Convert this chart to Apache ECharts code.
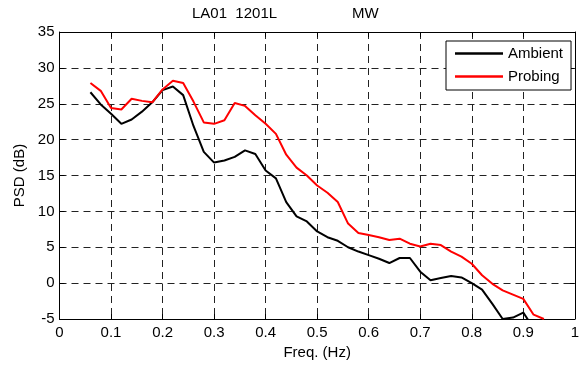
<!DOCTYPE html>
<html>
<head>
<meta charset="utf-8">
<script src="https://cdn.jsdelivr.net/npm/echarts@6/dist/echarts.min.js"></script>
<style>
  html, body { margin: 0; padding: 0; background: #fff; }
  #chart { width: 582px; height: 367px; }
</style>
</head>
<body>
<div id="chart"></div>
<script>
// Frequency samples (Hz) and PSD levels (dB)
const freqAmbient = [0.06, 0.08, 0.10, 0.12, 0.14, 0.16, 0.18, 0.20, 0.22, 0.24,
  0.26, 0.28, 0.30, 0.32, 0.34, 0.36, 0.38, 0.40, 0.42, 0.44,
  0.46, 0.48, 0.50, 0.52, 0.54, 0.56, 0.58, 0.60, 0.62, 0.64,
  0.66, 0.68, 0.70, 0.72, 0.74, 0.76, 0.78, 0.80, 0.82, 0.84,
  0.86, 0.88, 0.90, 0.92];
const psdAmbient = [26.6, 24.9, 23.6, 22.2, 22.8, 23.9, 25.2, 26.9, 27.4, 26.2,
  21.9, 18.3, 16.8, 17.1, 17.6, 18.5, 18.0, 15.7, 14.6, 11.3,
  9.3, 8.6, 7.2, 6.4, 5.9, 5.0, 4.4, 3.9, 3.4, 2.8,
  3.5, 3.5, 1.6, 0.4, 0.7, 1.0, 0.8, 0.0, -0.9, -2.9,
  -5.0, -4.8, -4.1, -6.3];

const freqProbing = [0.06, 0.08, 0.10, 0.12, 0.14, 0.16, 0.18, 0.20, 0.22, 0.24,
  0.26, 0.28, 0.30, 0.32, 0.34, 0.36, 0.38, 0.40, 0.42, 0.44,
  0.46, 0.48, 0.50, 0.52, 0.54, 0.56, 0.58, 0.60, 0.62, 0.64,
  0.66, 0.68, 0.70, 0.72, 0.74, 0.76, 0.78, 0.80, 0.82, 0.84,
  0.86, 0.88, 0.90, 0.92, 0.94];
const psdProbing = [27.9, 26.8, 24.4, 24.2, 25.7, 25.4, 25.2, 27.0, 28.2, 27.9,
  25.3, 22.4, 22.2, 22.7, 25.1, 24.7, 23.4, 22.2, 20.8, 17.9,
  16.1, 15.0, 13.6, 12.6, 11.3, 8.3, 7.0, 6.7, 6.4, 6.0,
  6.2, 5.5, 5.1, 5.5, 5.3, 4.4, 3.7, 2.7, 1.1, -0.1,
  -1.0, -1.6, -2.2, -4.4, -5.0];

const seriesNames = ['Ambient', 'Probing'];
const titleLeft = 'LA01  1201L';
const titleRight = 'MW';
const xName = 'Freq. (Hz)';
const yName = 'PSD (dB)';

const FONT = '"Liberation Sans", Arial, Helvetica, sans-serif';
const FS = 15;

function pairs(xs, ys) { return xs.map((x, i) => [x, ys[i]]); }

const gridLine = { show: true, lineStyle: { color: '#222', type: [7, 5], width: 1 } };
const frameLine = { show: true, onZero: false, lineStyle: { color: '#000', width: 1 } };
const tickIn = { show: true, inside: true, length: 5, lineStyle: { color: '#000' } };

const chart = echarts.init(document.getElementById('chart'), null, { renderer: 'canvas' });
chart.setOption({
  animation: false,
  backgroundColor: '#fff',
  textStyle: { fontFamily: FONT },
  title: [
    { text: titleLeft, left: 192, top: 6, padding: 0,
      textStyle: { fontFamily: FONT, fontSize: FS, fontWeight: 'normal', color: '#000' } },
    { text: titleRight, left: 352, top: 6, padding: 0,
      textStyle: { fontFamily: FONT, fontSize: FS, fontWeight: 'normal', color: '#000' } }
  ],
  grid: { left: 59.5, right: 2.5, top: 32, bottom: 48, containLabel: false },
  legend: {
    data: seriesNames.map(n => ({ name: n, icon: 'rect' })),
    orient: 'vertical',
    left: 446, top: 41,
    padding: [5, 8, 6, 9],
    itemWidth: 48, itemHeight: 2.5, itemGap: 8, itemTextGap: 6,
    backgroundColor: '#fff',
    borderColor: '#000', borderWidth: 1,
    textStyle: { fontFamily: FONT, fontSize: FS, color: '#000' }
  },
  xAxis: [
    {
      type: 'value', min: 0, max: 1, interval: 0.1,
      name: xName, nameLocation: 'middle', nameGap: 24,
      nameTextStyle: { fontFamily: FONT, fontSize: FS, color: '#000' },
      axisLine: frameLine, axisTick: tickIn,
      axisLabel: { margin: 6, fontFamily: FONT, fontSize: FS, color: '#000' },
      splitLine: gridLine
    },
    {
      type: 'value', min: 0, max: 1, interval: 0.1, position: 'top',
      axisLine: frameLine, axisTick: tickIn,
      axisLabel: { show: false }, splitLine: { show: false }
    }
  ],
  yAxis: [
    {
      type: 'value', min: -5, max: 35, interval: 5,
      name: yName, nameLocation: 'middle', nameGap: 32,
      nameTextStyle: { fontFamily: FONT, fontSize: FS, color: '#000' },
      axisLine: frameLine, axisTick: tickIn,
      axisLabel: { margin: 5, fontFamily: FONT, fontSize: FS, color: '#000' },
      splitLine: gridLine
    },
    {
      type: 'value', min: -5, max: 35, interval: 5, position: 'right',
      axisLine: frameLine, axisTick: tickIn,
      axisLabel: { show: false }, splitLine: { show: false }
    }
  ],
  series: [
    {
      name: seriesNames[0], type: 'line', symbol: 'none', clip: true,
      xAxisIndex: 0, yAxisIndex: 0,
      lineStyle: { color: '#000', width: 2 }, itemStyle: { color: '#000' },
      data: pairs(freqAmbient, psdAmbient)
    },
    {
      name: seriesNames[1], type: 'line', symbol: 'none', clip: true,
      xAxisIndex: 0, yAxisIndex: 0,
      lineStyle: { color: '#ff0000', width: 2 }, itemStyle: { color: '#ff0000' },
      data: pairs(freqProbing, psdProbing)
    }
  ]
});
</script>
</body>
</html>
